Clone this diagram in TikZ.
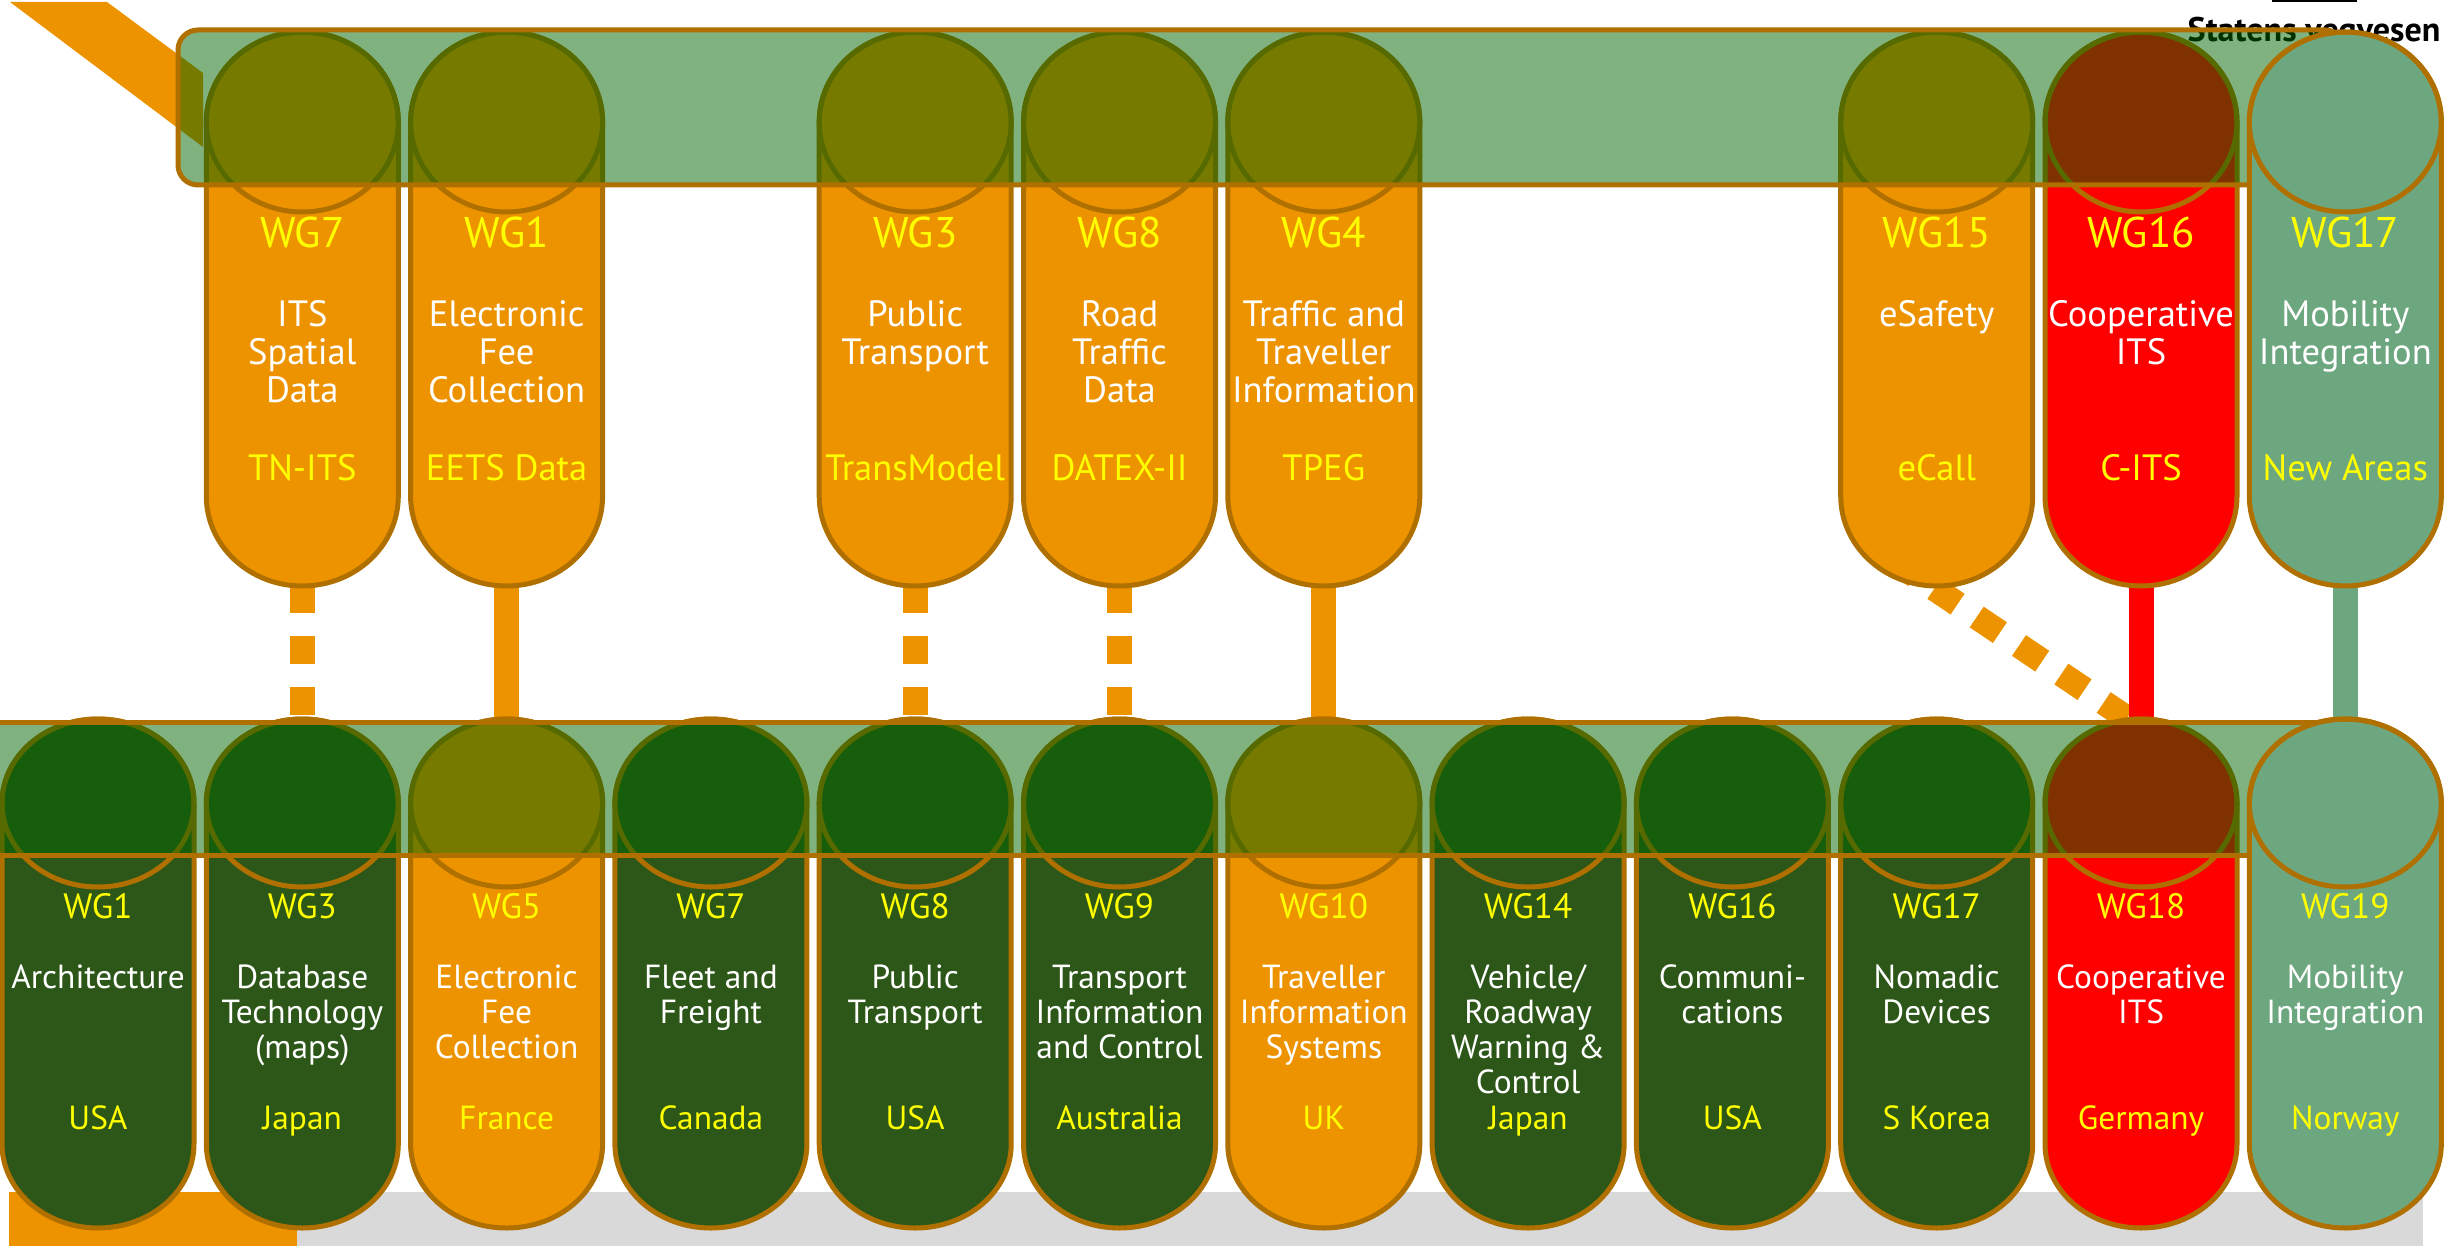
\documentclass[tikz,border=0pt]{standalone}
\usepackage{fontspec}
\setmainfont{PT Sans}
\definecolor{wgorange}{RGB}{238,147,0}
\definecolor{wggreen}{RGB}{45,87,24}
\definecolor{wgred}{RGB}{255,0,0}
\definecolor{wgteal}{RGB}{109,167,127}
\definecolor{wgline}{RGB}{176,112,0}
\definecolor{bandgreen}{RGB}{0,101,0}
\definecolor{wggray}{RGB}{217,217,217}
\definecolor{wgyellow}{RGB}{255,255,0}
\pgfdeclarelayer{back}
\pgfdeclarelayer{bands}
\pgfdeclarelayer{front}
\pgfsetlayers{back,main,bands,front}
\newcommand\rows[1]{\begin{tabular}[t]{@{}c@{}}#1\end{tabular}}

\begin{document}
\begin{tikzpicture}[x=0.01cm,y=-0.01cm]
\tikzstyle{every node}+=[inner sep=0pt]
\tikzstyle{pill}=[draw=wgline, line width=0.05cm]
\tikzstyle{bandbox}=[draw=wgline, line width=0.05cm, fill=bandgreen, fill opacity=0.5]
\tikzstyle{link}=[draw=wgorange, line width=0.25cm]
\tikzstyle{dashlink}=[dash pattern=on 0.28cm off 0.23cm]
\tikzstyle{toplabel}=[anchor=base, text=wgyellow, font=\fontsize{12.2}{14}\selectfont]
\tikzstyle{toptext}=[anchor=base, text=white, font=\fontsize{10.4}{10.8}\selectfont]
\tikzstyle{topstd}=[anchor=base, text=wgyellow, font=\fontsize{10.4}{10.8}\selectfont]
\tikzstyle{botlabel}=[anchor=base, text=wgyellow, font=\fontsize{10}{11}\selectfont]
\tikzstyle{botstd}=[anchor=base, text=wgyellow, font=\fontsize{9.5}{9.96}\selectfont]
\tikzstyle{bottext}=[anchor=base, text=white, font=\fontsize{9.5}{9.96}\selectfont]
\useasboundingbox (0,0) rectangle (2446,1246);

% strips and logo behind everything
\begin{pgfonlayer}{back}
\fill [wggray] (297,1192) rectangle (2423,1246);
\fill [wgorange] (9,1192) rectangle (297,1246);
\fill [wgorange] (10,2) -- (107,2) -- (203,73) -- (203,147) -- cycle;
\node [anchor=base, font=\bfseries\fontsize{9.7}{11}\selectfont] (logo) at (2314,42) {Statens vegvesen};
\draw [line width=0.02cm] (2272,1) -- (2357,1);
\end{pgfonlayer}

% CEN working groups
\foreach \i/\fc/\lay/\wg/\txt/\std [evaluate=\i as \x using 98+204.3*\i] in {
  1/wgorange/main/WG7/{ITS\\Spatial\\Data}/TN-ITS,
  2/wgorange/main/WG1/{Electronic\\Fee\\Collection}/EETS Data,
  4/wgorange/main/WG3/{Public\\Transport}/TransModel,
  5/wgorange/main/WG8/{Road\\Traffic\\Data}/DATEX-II,
  6/wgorange/main/WG4/{Traffic and\\Traveller\\Information}/TPEG,
  9/wgorange/main/WG15/eSafety/eCall,
  10/wgred/main/WG16/{Cooperative\\ITS}/C-ITS,
  11/wgteal/front/WG17/{Mobility\\Integration}/New Areas} {
\begin{pgfonlayer}{\lay}
\draw [pill, fill=\fc] (\x-96,122) arc [start angle=180, end angle=360, x radius=96, y radius=90]
  -- (\x+96,496) arc [start angle=0, end angle=180, x radius=96, y radius=90] -- cycle;
\draw [pill] (\x,122) ellipse [x radius=96, y radius=90];
\end{pgfonlayer}
\begin{pgfonlayer}{front}
\node [toplabel] (t\i) at (\x,248) {\wg};
\node [toptext] (t\i-txt) at (\x,327) {\rows{\txt}};
\node [topstd] (t\i-std) at (\x,480) {\std};
\end{pgfonlayer}
\coordinate (t\i-foot) at (\x,534);
}

% ISO working groups
\foreach \i/\fc/\lay/\wg/\txt/\std [evaluate=\i as \x using 98+204.3*\i] in {
  0/wggreen/main/WG1/Architecture/USA,
  1/wggreen/main/WG3/{Database\\Technology\\(maps)}/Japan,
  2/wgorange/main/WG5/{Electronic\\Fee\\Collection}/France,
  3/wggreen/main/WG7/{Fleet and\\Freight}/Canada,
  4/wggreen/main/WG8/{Public\\Transport}/USA,
  5/wggreen/main/WG9/{Transport\\Information\\and Control}/Australia,
  6/wgorange/main/WG10/{Traveller\\Information\\Systems}/UK,
  7/wggreen/main/WG14/{Vehicle/\\Roadway\\Warning \&\\Control}/Japan,
  8/wggreen/main/WG16/{Communi-\\cations}/USA,
  9/wggreen/main/WG17/{Nomadic\\Devices}/S Korea,
  10/wgred/main/WG18/{Cooperative\\ITS}/Germany,
  11/wgteal/front/WG19/{Mobility\\Integration}/Norway} {
\begin{pgfonlayer}{\lay}
\draw [pill, fill=\fc] (\x-96,803) arc [start angle=180, end angle=360, x radius=96, y radius=84]
  -- (\x+96,1144) arc [start angle=0, end angle=180, x radius=96, y radius=84] -- cycle;
\draw [pill] (\x,803) ellipse [x radius=96, y radius=84];
\end{pgfonlayer}
\begin{pgfonlayer}{front}
\node [botlabel] (b\i) at (\x,918) {\wg};
\node [bottext] (b\i-txt) at (\x,988) {\rows{\txt}};
\node [botstd] (b\i-std) at (\x,1129) {\std};
\end{pgfonlayer}
\coordinate (b\i-head) at (\x,740);
}

% bands
\begin{pgfonlayer}{bands}
\draw [bandbox, rounded corners=0.2cm] (178,30) rectangle (2345,185);
\draw [bandbox] (-5,722) rectangle (2345,855);
\end{pgfonlayer}

% links
\coordinate (t9-exit) at (1892,560);
\coordinate (b10-entry) at (2140,727);
\begin{pgfonlayer}{back}
\draw [link, dashlink] (t1-foot) -- (b1-head);
\draw [link] (t2-foot) -- (b2-head);
\draw [link, dashlink] (t4-foot) -- (b4-head);
\draw [link, dashlink] (t5-foot) -- (b5-head);
\draw [link] (t6-foot) -- (b6-head);
\draw [link, dashlink] (t9-exit) -- (b10-entry);
\draw [link, draw=wgred] (t10-foot) -- (b10-head);
\draw [link, draw=wgteal] (t11-foot) -- (b11-head);
\end{pgfonlayer}
\end{tikzpicture}
\end{document}
